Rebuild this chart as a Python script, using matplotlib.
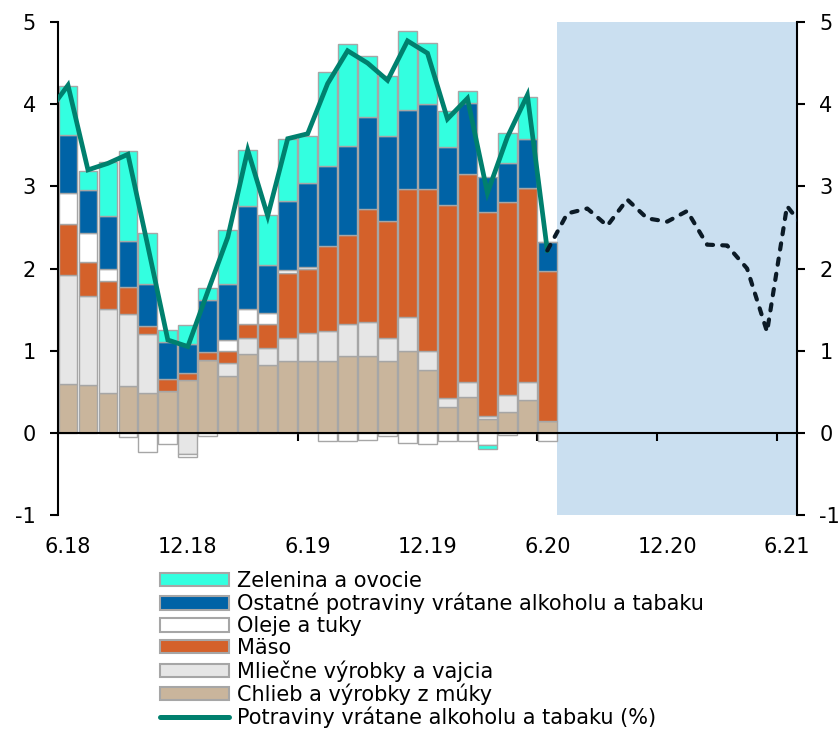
import numpy as np
import matplotlib.pyplot as plt
from matplotlib.patches import Patch
from matplotlib.lines import Line2D

plt.rcParams["font.family"] = "DejaVu Sans"
plt.rcParams["font.size"] = 15
plt.rcParams["axes.unicode_minus"] = False

# monthly contributions, 6.18 .. 6.20 (percentage points)
zelenina = [0.59, 0.24, 0.66, 1.09, 0.62, 0.15, 0.23, 0.14, 0.66, 0.68, 0.61, 0.75, 0.57,
            1.14, 1.24, 0.75, 0.73, 0.96, 0.75, 0.44, 0.14, -0.05, 0.37, 0.51, 0.00]
ostatne = [0.71, 0.52, 0.65, 0.57, 0.51, 0.44, 0.35, 0.64, 0.68, 1.25, 0.58, 0.84, 1.02,
           0.98, 1.08, 1.12, 1.03, 0.96, 1.03, 0.71, 0.87, 0.42, 0.47, 0.60, 0.35]
oleje = [0.38, 0.35, 0.14, -0.05, -0.235, -0.14, -0.03, -0.04, 0.14, 0.18, 0.13, 0.04, 0.02,
         -0.10, -0.10, -0.09, -0.04, -0.12, -0.14, -0.10, -0.10, -0.15, -0.03, 0.00, -0.10]
maso = [0.62, 0.42, 0.34, 0.32, 0.10, 0.15, 0.09, 0.09, 0.14, 0.18, 0.30, 0.79, 0.79,
        1.03, 1.09, 1.37, 1.42, 1.56, 1.98, 2.35, 2.53, 2.48, 2.35, 2.36, 1.83]
mliecne = [1.32, 1.08, 1.02, 0.88, 0.71, 0.00, -0.26, 0.00, 0.16, 0.19, 0.20, 0.28, 0.33,
           0.37, 0.38, 0.41, 0.29, 0.41, 0.22, 0.11, 0.18, 0.04, 0.21, 0.22, 0.00]
chlieb = [0.60, 0.58, 0.49, 0.57, 0.49, 0.51, 0.64, 0.89, 0.69, 0.96, 0.83, 0.87, 0.88,
          0.87, 0.94, 0.94, 0.87, 1.00, 0.77, 0.31, 0.44, 0.17, 0.25, 0.40, 0.14]

# total food inflation, 5.18 .. 6.20 and forecast 6.20 .. 7.21
actual = [3.90, 4.23, 3.20, 3.28, 3.39, 2.27, 1.13, 1.05, 1.72, 2.38, 3.44, 2.64, 3.58, 3.64,
          4.25, 4.65, 4.50, 4.29, 4.77, 4.62, 3.82, 4.07, 2.92, 3.60, 4.11, 2.22]
forecast = [2.22, 2.67, 2.73, 2.52, 2.84, 2.61, 2.57, 2.70, 2.29, 2.28, 2.00, 1.23, 2.76, 2.45]

tick_labels = ["6.18", "12.18", "6.19", "12.19", "6.20", "12.20", "6.21"]

series = [
    ("Chlieb a výrobky z múky", chlieb, "#C9B59C"),
    ("Mliečne výrobky a vajcia", mliecne, "#E6E6E6"),
    ("Mäso", maso, "#D4612A"),
    ("Oleje a tuky", oleje, "#FFFFFF"),
    ("Ostatné potraviny vrátane alkoholu a tabaku", ostatne, "#0063A6"),
    ("Zelenina a ovocie", zelenina, "#33FFE0"),
]

fig = plt.figure(figsize=(8.39, 7.29), dpi=100)
ax = fig.add_axes([58/839, 1 - 515/729, (797 - 58)/839, (515 - 22)/729])

n = len(chlieb)
x = np.arange(n)
ax.axvspan(24.5, 36.5, color="#CADFF0", lw=0, zorder=0)

pos = np.zeros(n)
neg = np.zeros(n)
for name, vals, col in series:
    v = np.array(vals)
    bottom = np.where(v >= 0, pos, neg)
    ax.bar(x, v, 0.94, bottom=bottom, color=col, edgecolor="#A6A6A6", lw=1.0, zorder=2)
    pos = pos + np.clip(v, 0, None)
    neg = neg + np.clip(v, None, 0)

ax.plot(np.arange(-1, len(actual) - 1), actual, color="#00806E", lw=3.4,
        solid_joinstyle="miter", zorder=4)
ax.plot(np.arange(24, 24 + len(forecast)), forecast, color="#0B1A26", lw=3,
        linestyle=(0, (1.5, 2.2)), dash_capstyle="round", zorder=4)

ax.set_xlim(-0.5, 36.5)
ax.set_ylim(-1, 5)
ax.set_yticks(range(-1, 6))
ax.tick_params(axis="y", direction="out", length=6, width=1.5, pad=10,
               right=True, labelright=True, labelsize=15)

ax.spines["top"].set_visible(False)
ax.spines["bottom"].set_position(("data", 0))
for s in ["left", "right", "bottom"]:
    ax.spines[s].set_linewidth(1.5)
ax.spines["bottom"].set_zorder(3)

ax.set_xticks(np.arange(0, 37, 6))
ax.set_xticklabels(tick_labels)
ax.set_xticks(np.arange(5.5, 36, 6), minor=True)
ax.tick_params(axis="x", which="major", length=0, pad=75, labelsize=15)
ax.tick_params(axis="x", which="minor", direction="out", length=6, width=1.5)

handles = [Patch(facecolor=col, edgecolor="#A6A6A6", lw=1.5, label=name)
           for name, vals, col in series[::-1]]
handles.append(Line2D([], [], color="#00806E", lw=3.6, solid_capstyle="round",
                      label="Potraviny vrátane alkoholu a tabaku (%)"))
fig.legend(handles=handles, loc="upper left", bbox_to_anchor=(160/839, 1 - 571/729),
           frameon=False, fontsize=15, labelspacing=0.09, handlelength=3.3,
           handleheight=0.6, handletextpad=0.4, borderpad=0, borderaxespad=0)

fig.savefig("out.png", dpi=100)
